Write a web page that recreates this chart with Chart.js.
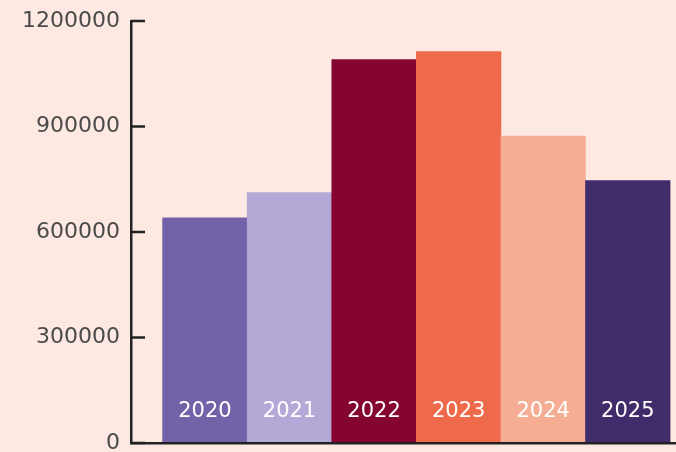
<!DOCTYPE html>
<html>
<head>
<meta charset="utf-8">
<script src="https://cdn.jsdelivr.net/npm/chart.js@4"></script>
<style>
  html, body { margin: 0; padding: 0; background: #fde9e1; }
  #wrap { width: 676px; height: 452px; }
</style>
</head>
<body>
<div id="wrap"><canvas id="barChart"></canvas></div>
<script>
const years = ["2020", "2021", "2022", "2023", "2024", "2025"];
const values = [640000, 712000, 1090000, 1113000, 873000, 746000];
const barColors = ["#7462a8", "#b3a8d6", "#84052f", "#ee6a4b", "#f5ae93", "#402b6b"];
const yTicks = [0, 300000, 600000, 900000, 1200000];

// inward tick marks on the y axis + year labels inside the bars
const extras = {
  id: "extras",
  afterDraw(chart) {
    const ctx = chart.ctx;
    const y = chart.scales.y;
    ctx.save();
    ctx.strokeStyle = "#222";
    ctx.lineWidth = 2.5;
    yTicks.forEach(v => {
      const py = y.getPixelForValue(v);
      ctx.beginPath();
      ctx.moveTo(y.right, py);
      ctx.lineTo(y.right + 14, py);
      ctx.stroke();
    });
    ctx.fillStyle = "#ffffff";
    ctx.font = "21px 'DejaVu Sans'";
    ctx.textAlign = "center";
    ctx.textBaseline = "middle";
    chart.getDatasetMeta(0).data.forEach((bar, i) => {
      ctx.fillText(years[i], bar.x, 412);
    });
    ctx.restore();
  }
};

new Chart(document.getElementById("barChart"), {
  type: "bar",
  data: {
    labels: years,
    datasets: [{
      data: values,
      backgroundColor: barColors,
      borderWidth: 0,
      categoryPercentage: 1,
      barPercentage: 1
    }]
  },
  options: {
    responsive: true,
    maintainAspectRatio: false,
    animation: false,
    layout: { padding: { top: 21, right: 0, bottom: 9, left: 0 } },
    plugins: { legend: { display: false }, tooltip: { enabled: false } },
    scales: {
      x: {
        type: "linear",
        bounds: "data",
        offset: false,
        min: 2019.126,
        max: 2025.57,
        afterBuildTicks: s => { s.ticks = years.map(v => ({ value: +v })); },
        grid: { display: false, drawTicks: false, offset: false },
        ticks: { display: false },
        border: { color: "#222", width: 2.5, z: 1 }
      },
      y: {
        min: 0,
        max: 1200000,
        afterBuildTicks: s => { s.ticks = yTicks.map(v => ({ value: v })); },
        afterFit: s => { s.width = 131; s.paddingTop = 0; s.paddingBottom = 0; },
        grid: { display: false, drawTicks: false },
        border: { color: "#222", width: 2.5, z: 1 },
        ticks: {
          padding: 11,
          color: "#4a4a4a",
          font: { family: "DejaVu Sans", size: 22 },
          callback: v => String(v)
        }
      }
    }
  },
  plugins: [extras]
});
</script>
</body>
</html>
